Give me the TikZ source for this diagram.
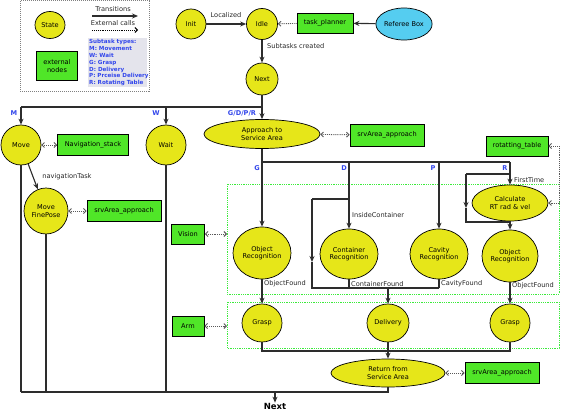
\documentclass[tikz,border=0pt]{standalone}
\usepackage{fontspec}
\setmainfont{DejaVu Sans}
\usetikzlibrary{shapes.geometric,arrows.meta}
\definecolor{yel}{RGB}{230,230,25}
\definecolor{grn}{RGB}{80,230,40}
\definecolor{cyn}{RGB}{85,205,240}
\definecolor{lc}{RGB}{45,45,45}
\definecolor{blu}{RGB}{50,70,235}
\definecolor{gbox}{RGB}{60,235,60}
\definecolor{legbg}{RGB}{228,228,236}
\newcommand{\fs}{\fontsize{6.6}{7.6}\selectfont}
\newcommand{\fsl}{\fontsize{5.6}{6.8}\selectfont}
\tikzset{
 st/.style={ellipse, draw=black, line width=0.7pt, fill=yel, inner sep=0pt, font=\fs, align=center},
 ext/.style={rectangle, draw=black, line width=0.8pt, fill=grn, font=\fs, inner sep=0pt, align=center},
 tr/.style={draw=lc, line width=1.1pt, -{Stealth[length=6pt,width=5pt]}},
 ln/.style={draw=lc, line width=1.1pt},
 ecb/.style={draw=gray!70!black, densely dotted, line width=0.9pt, {Straight Barb[length=2.5pt,width=5pt]}-{Straight Barb[length=2.5pt,width=5pt]}},
 ece/.style={draw=gray!70!black, densely dotted, line width=0.9pt, -{Straight Barb[length=2.5pt,width=5pt]}},
 lab/.style={font=\fs, text=black!85, inner sep=0pt},
 sub/.style={font=\bfseries\fs, text=blu, inner sep=0pt},
 gboxs/.style={draw=gbox, densely dotted, line width=0.8pt},
}
\begin{document}
\begin{tikzpicture}[x=1pt,y=-1pt]
\useasboundingbox[fill=white] (0,0) rectangle (562,412);

% legend
\draw[gray, densely dotted, line width=1pt] (20,1) rectangle (149,91);
\node[st, minimum width=30pt, minimum height=27pt] (lstate) at (50,25) {State};
\node[ext, minimum width=41pt, minimum height=29pt] (lext) at (57,66) {external\\nodes};
\coordinate (lt1) at (92,16); \coordinate (lt2) at (138,16);
\draw[tr] (lt1) -- (lt2);
\node[lab] (ltl) at (113,9) {Transitions};
\coordinate (le1) at (92,30); \coordinate (le2) at (138,30);
\draw[ece, draw=black] (le1) -- (le2);
\node[lab] (lel) at (113,23) {External calls};
\fill[legbg] (88,38) rectangle (147,87);
\node[font=\bfseries\fsl, text=blu, align=left, anchor=north west, inner sep=0pt] (ltypes) at (89,39.5)
 {Subtask types:\\M: Movement\\W: Wait\\G: Grasp\\D: Delivery\\P: Prceise Delivery\\R: Rotating Table};

% top
\node[st, minimum width=30pt, minimum height=30pt] (init) at (191,24) {Init};
\node[st, minimum width=31pt, minimum height=31pt] (idle) at (262,24) {Idle};
\node[ext, minimum width=56pt, minimum height=20pt] (tp) at (325,23) {task\_planner};
\node[ellipse, draw=black, line width=0.7pt, fill=cyn, inner sep=0pt, font=\fs, minimum width=52pt, minimum height=32pt] (ref) at (404,24) {Referee Box};
\node[st, minimum width=32pt, minimum height=32pt] (next) at (262,79) {Next};
\draw[tr] (init) -- (idle);
\node[lab] (locl) at (226,15) {Localized};
\draw[tr] (ref) -- (tp);
\draw[ece] (tp) -- (idle);
\draw[tr] (idle) -- (next);
\node[lab, anchor=west] (subl) at (267,46) {Subtasks created};

% first branch
\coordinate (j0) at (262,107);
\coordinate (jm) at (21,107);
\coordinate (jw) at (166,107);
\draw[ln] (next) -- (j0);
\draw[ln] (jm) -- (j0);
\node[st, minimum width=40pt, minimum height=40pt] (move) at (21,145) {Move};
\node[st, minimum width=40pt, minimum height=40pt] (wait) at (166,145) {Wait};
\node[st, minimum width=116pt, minimum height=29pt] (appr) at (262,134) {Approach to\\Service Area};
\draw[tr] (jm) -- (move);
\draw[tr] (jw) -- (wait);
\draw[tr] (j0) -- (appr);
\node[sub] (lm) at (14,113) {M};
\node[sub] (lw) at (156,113) {W};
\node[sub] (lg4) at (242,113) {G/D/P/R};

\node[ext, minimum width=71pt, minimum height=21pt] (nav) at (93,145) {Navigation\_stack};
\draw[ecb] (move) -- (nav);
\node[st, minimum width=44pt, minimum height=46pt] (fine) at (46,211) {Move\\FinePose};
\draw[tr] (move) -- (fine);
\node[lab] (navl) at (67,177) {navigationTask};
\node[ext, minimum width=74pt, minimum height=21pt] (srv1) at (124,211) {srvArea\_approach};
\draw[ecb] (fine) -- (srv1);
\node[ext, minimum width=74pt, minimum height=22pt] (srv2) at (387,135) {srvArea\_approach};
\draw[ecb] (appr) -- (srv2);

% green boxes
\draw[gboxs] (227,184) rectangle (559,294);
\draw[gboxs] (227,302) rectangle (559,348);
\node[ext, minimum width=33pt, minimum height=20pt] (vision) at (188,234) {Vision};
\node[ext, minimum width=32pt, minimum height=20pt] (arm) at (188,326) {Arm};
\coordinate (vb) at (227,234);
\coordinate (ab) at (227,326);
\draw[ecb] (vision) -- (vb);
\draw[ecb] (arm) -- (ab);

% second branch
\coordinate (k0) at (262,162);
\coordinate (kd) at (349,162);
\coordinate (kp) at (439,162);
\coordinate (kr) at (510,162);
\draw[ln] (appr) -- (k0);
\draw[ln] (k0) -- (kr);
\node[sub] (lg) at (257,168) {G};
\node[sub] (ld) at (344,168) {D};
\node[sub] (lp) at (433,168) {P};
\node[sub] (lr) at (505,168) {R};

\node[st, minimum width=58pt, minimum height=52pt] (objg) at (262,253) {Object\\Recognition};
\node[st, minimum width=58pt, minimum height=50pt] (cont) at (349,254) {Container\\Recognition};
\node[st, minimum width=58pt, minimum height=50pt] (cav) at (439,254) {Cavity\\Recognition};
\node[st, minimum width=56pt, minimum height=52pt] (objr) at (510,256) {Object\\Recognition};
\node[st, minimum width=76pt, minimum height=36pt] (calc) at (510,203) {Calculate\\RT rad \& vel};
\node[ext, minimum width=62pt, minimum height=20pt] (rot) at (517,146) {rotatting\_table};

\draw[tr] (k0) -- (objg);
\draw[tr] (kd) -- (cont);
\draw[tr] (kp) -- (cav);
\draw[tr] (kr) -- (calc);
\node[lab, anchor=west] (ftl) at (514,180) {FirstTime};
\node[lab, anchor=west] (icl) at (352,215) {InsideContainer};

% D loop
\coordinate (d1) at (349,199);
\coordinate (d2) at (312,199);
\coordinate (d3) at (312,262);
\coordinate (d4) at (312,288);
\coordinate (d5) at (349,288);
\coordinate (d6) at (439,288);
\coordinate (d7) at (388,288);
\draw[ln] (d1) -- (d2);
\draw[tr] (d2) -- (d3);
\draw[ln] (d3) -- (d4) -- (d6);
\draw[ln] (cont) -- (d5);
\draw[ln] (cav) -- (d6);
\node[lab, anchor=west] (cfl) at (351,284) {ContainerFound};
\node[lab, anchor=west] (cvl) at (441,284) {CavityFound};

% R loop
\coordinate (r1) at (510,174);
\coordinate (r2) at (466,174);
\coordinate (r3) at (466,208);
\coordinate (r4) at (466,222);
\coordinate (r5) at (510,222);
\draw[ln] (r1) -- (r2);
\draw[tr] (r2) -- (r3);
\draw[ln] (r3) -- (r4) -- (r5);
\draw[ln] (calc) -- (r5);
\draw[tr] (r5) -- (objr);
\coordinate (rt1) at (559,146);
\coordinate (rt2) at (559,203);
\draw[ecb] (rot.east) -- (rt1) -- (rt2) -- (calc.east);

% grasp / delivery
\node[st, minimum width=40pt, minimum height=38pt] (graspg) at (262,323) {Grasp};
\node[st, minimum width=42pt, minimum height=38pt] (deliv) at (388,323) {Delivery};
\node[st, minimum width=40pt, minimum height=38pt] (graspr) at (510,323) {Grasp};
\draw[tr] (objg) -- (graspg);
\node[lab, anchor=west] (ofl1) at (264,284) {ObjectFound};
\draw[tr] (objr) -- (graspr);
\node[lab, anchor=west] (ofl2) at (512,286) {ObjectFound};
\draw[tr] (d7) -- (deliv);

\node[st, minimum width=114pt, minimum height=28pt] (ret) at (388,373) {Return from\\Service Area};
\node[ext, minimum width=74pt, minimum height=21pt] (srv3) at (502,373) {srvArea\_approach};
\draw[ecb] (ret) -- (srv3);
\coordinate (b1) at (262,351);
\coordinate (b2) at (510,351);
\draw[ln] (graspg) -- (b1) -- (b2) -- (graspr);
\draw[tr] (deliv) -- (ret);

% bottom
\coordinate (e0) at (388,392);
\coordinate (em) at (21,392);
\coordinate (ef) at (46,392);
\coordinate (ew) at (166,392);
\coordinate (en) at (275,392);
\draw[ln] (ret) -- (e0) -- (em);
\draw[ln] (move) -- (em);
\draw[ln] (fine) -- (ef);
\draw[ln] (wait) -- (ew);
\node[font=\bfseries\fontsize{8.5}{9}\selectfont, inner sep=0pt] (nextend) at (275,406) {Next};
\draw[tr] (en) -- (nextend);
\end{tikzpicture}
\end{document}
